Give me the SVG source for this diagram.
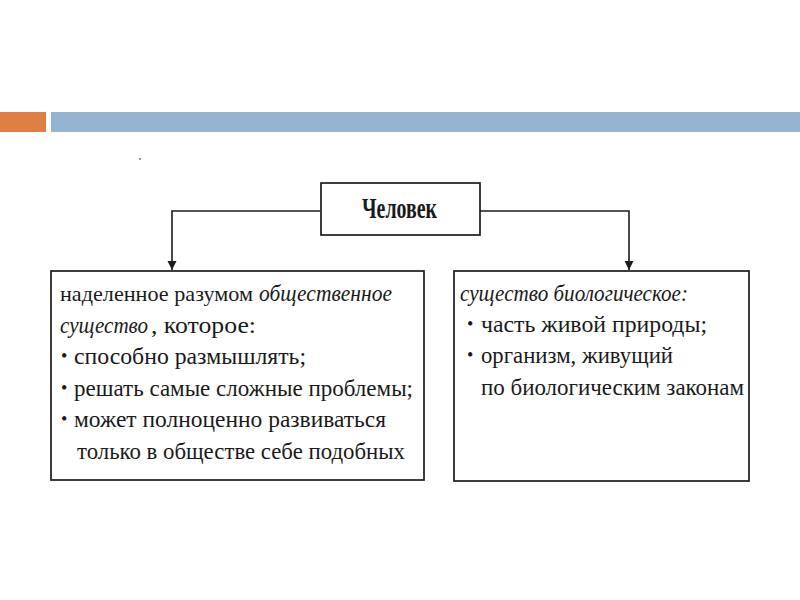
<svg xmlns="http://www.w3.org/2000/svg" width="800" height="600" viewBox="0 0 800 600">
<defs>
<style>
.box{fill:#fff;stroke:#1c1c1c;stroke-width:1.7}
.t{font-family:"Liberation Serif","Times New Roman",serif;font-size:24px;fill:#1a1a1a}
.s{font-size:22px}
.b{font-family:"Liberation Serif","Times New Roman",serif;font-size:18px;fill:#1a1a1a}
.i{font-style:italic}
.title{font-family:"Liberation Serif","Times New Roman",serif;font-size:30px;font-weight:bold;fill:#1a1a1a}
.conn{fill:none;stroke:#1c1c1c;stroke-width:1.6}
</style>
<marker id="arr" viewBox="0 0 10 10" refX="10" refY="5" markerWidth="9" markerHeight="11" markerUnits="userSpaceOnUse" orient="auto">
<path d="M0,0 L10,5 L0,10 Z" fill="#1c1c1c"/>
</marker>
</defs>
<rect width="800" height="600" fill="#fff"/>
<g id="header">
<rect x="0" y="112" width="46" height="20" fill="#DF7F46"/>
<rect x="51" y="112" width="749" height="20" fill="#94B4D1"/>
</g>
<rect x="139" y="158" width="2" height="2" fill="#999"/>
<g id="connectors">
<path class="conn" d="M320,211 H172 V270" marker-end="url(#arr)"/>
<path class="conn" d="M480,211 H629 V270" marker-end="url(#arr)"/>
</g>
<g id="node-chelovek">
<rect class="box" x="321" y="183" width="159" height="52"/>
<text class="title" x="362" y="218" textLength="75" lengthAdjust="spacingAndGlyphs">Человек</text>
</g>
<g id="node-social">
<rect class="box" x="51" y="271" width="373" height="209"/>
<text class="t s" x="60" y="301" textLength="193" lengthAdjust="spacingAndGlyphs">наделенное разумом</text>
<text class="t i" x="259" y="301" textLength="133" lengthAdjust="spacingAndGlyphs">общественное</text>
<text class="t i" x="60" y="332.5" textLength="88" lengthAdjust="spacingAndGlyphs">существо</text>
<text class="t" x="151" y="332.5" textLength="105" lengthAdjust="spacingAndGlyphs">, которое:</text>
<text class="b" x="61" y="362">•</text>
<text class="t" x="74" y="364" textLength="232" lengthAdjust="spacingAndGlyphs">способно размышлять;</text>
<text class="b" x="61" y="393.5">•</text>
<text class="t" x="74" y="395.5" textLength="339" lengthAdjust="spacingAndGlyphs">решать самые сложные проблемы;</text>
<text class="b" x="61" y="425">•</text>
<text class="t" x="74" y="427" textLength="312" lengthAdjust="spacingAndGlyphs">может полноценно развиваться</text>
<text class="t" x="77" y="458.5" textLength="328" lengthAdjust="spacingAndGlyphs">только в обществе себе подобных</text>
</g>
<g id="node-bio">
<rect class="box" x="454" y="271" width="295" height="210"/>
<text class="t i" x="460" y="301" textLength="228" lengthAdjust="spacingAndGlyphs">существо биологическое:</text>
<text class="b" x="467" y="330">•</text>
<text class="t" x="481" y="332" textLength="226" lengthAdjust="spacingAndGlyphs">часть живой природы;</text>
<text class="b" x="467" y="361">•</text>
<text class="t" x="481" y="363" textLength="192" lengthAdjust="spacingAndGlyphs">организм, живущий</text>
<text class="t" x="481" y="395" textLength="263" lengthAdjust="spacingAndGlyphs">по биологическим законам</text>
</g>
</svg>
